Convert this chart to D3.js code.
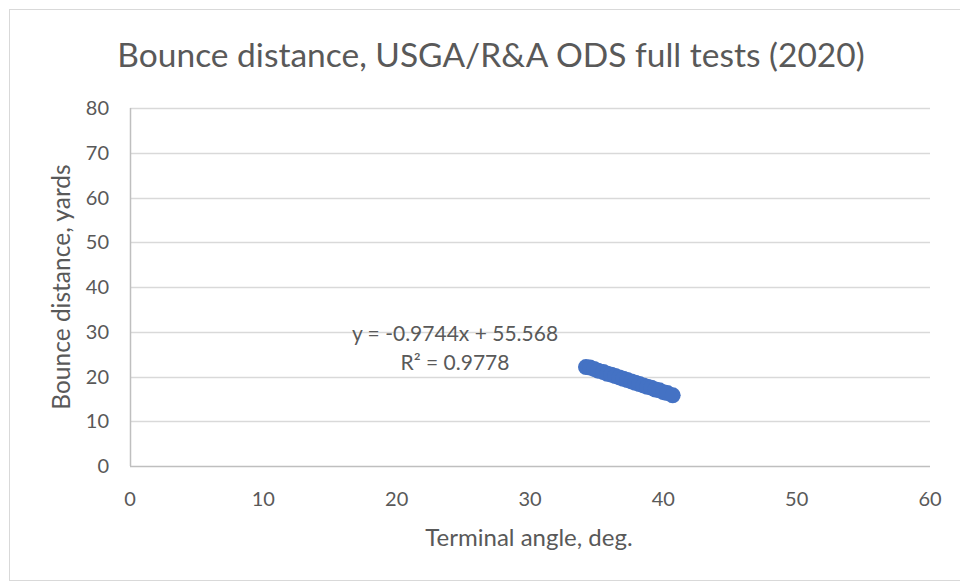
<!DOCTYPE html>
<html>
<head>
<meta charset="utf-8">
<script src="https://cdn.jsdelivr.net/npm/d3@7"></script>
<style>
  body { margin: 0; background: #fff; }
  svg text { font-family: Lato, "Open Sans", sans-serif; fill: #595959; }
</style>
</head>
<body>
<div id="chart"></div>
<script>
// Chart data
const angles  = [34.2, 34.5, 34.8, 35.1, 35.5, 35.8, 36.1, 36.4, 36.7, 37.0, 37.3,
                 37.6, 37.9, 38.2, 38.5, 38.8, 39.1, 39.4, 39.7, 40.0, 40.3, 40.7];
const bounces = [22.1, 22.0, 21.7, 21.3, 21.0, 20.6, 20.4, 20.1, 19.8, 19.5, 19.2,
                 18.9, 18.6, 18.3, 18.0, 17.7, 17.5, 17.1, 16.9, 16.5, 16.3, 15.8];
const xTicks = [0, 10, 20, 30, 40, 50, 60];
const yTicks = [0, 10, 20, 30, 40, 50, 60, 70, 80];
const slope = -0.9744, intercept = 55.568;
const equation = "y = -0.9744x + 55.568";
const rSquared = "R² = 0.9778";

const width = 960, height = 583;
const margin = { left: 130, right: 30, top: 108, bottom: 117 };

const svg = d3.select("#chart").append("svg")
    .attr("width", width)
    .attr("height", height);

// outer chart frame
svg.append("rect")
    .attr("x", 9.5).attr("y", 9.5)
    .attr("width", 970).attr("height", 571)
    .attr("fill", "white")
    .attr("stroke", "#d9d9d9");

const x = d3.scaleLinear().domain([0, 60]).range([margin.left, width - margin.right]);
const y = d3.scaleLinear().domain([0, 80]).range([height - margin.bottom, margin.top]);

// gridlines
svg.append("g").selectAll("line")
    .data(yTicks.filter(d => d > 0))
    .join("line")
    .attr("x1", x(0)).attr("x2", x(60))
    .attr("y1", d => Math.round(y(d)) + 0.5).attr("y2", d => Math.round(y(d)) + 0.5)
    .attr("stroke", "#d9d9d9").attr("stroke-width", 1.3);

// axes lines
svg.append("line")
    .attr("x1", x(0)).attr("x2", x(60))
    .attr("y1", Math.round(y(0)) + 0.5).attr("y2", Math.round(y(0)) + 0.5)
    .attr("stroke", "#bfbfbf").attr("stroke-width", 1.5);
svg.append("line")
    .attr("x1", x(0) + 0.5).attr("x2", x(0) + 0.5)
    .attr("y1", y(0)).attr("y2", y(80))
    .attr("stroke", "#bfbfbf").attr("stroke-width", 1.5);

// tick labels
svg.append("g").selectAll("text")
    .data(yTicks)
    .join("text")
    .attr("x", x(0) - 21)
    .attr("y", d => y(d) + 7)
    .attr("text-anchor", "end")
    .attr("font-size", 20)
    .text(d => d);

svg.append("g").selectAll("text")
    .data(xTicks)
    .join("text")
    .attr("x", d => x(d))
    .attr("y", y(0) + 40)
    .attr("text-anchor", "middle")
    .attr("font-size", 20)
    .text(d => d);

// trendline (under the markers)
const xr = d3.extent(angles);
svg.append("line")
    .attr("x1", x(xr[0])).attr("y1", y(slope * xr[0] + intercept))
    .attr("x2", x(xr[1])).attr("y2", y(slope * xr[1] + intercept))
    .attr("stroke", "#4472c4").attr("stroke-width", 2);

// markers
svg.append("g").selectAll("circle")
    .data(angles.map((a, i) => ({ a, b: bounces[i] })))
    .join("circle")
    .attr("cx", d => x(d.a))
    .attr("cy", d => y(d.b))
    .attr("r", 8)
    .attr("fill", "#4472c4");

// trendline label
svg.append("text")
    .attr("x", 455).attr("y", 341)
    .attr("text-anchor", "middle")
    .attr("font-size", 21)
    .text(equation);
svg.append("text")
    .attr("x", 455).attr("y", 370)
    .attr("text-anchor", "middle")
    .attr("font-size", 21)
    .text(rSquared);

// titles
svg.append("text")
    .attr("x", 491).attr("y", 67)
    .attr("text-anchor", "middle")
    .attr("font-size", 33.5)
    .text("Bounce distance, USGA/R&A ODS full tests (2020)");

svg.append("text")
    .attr("x", x(30) - 1).attr("y", 546)
    .attr("text-anchor", "middle")
    .attr("font-size", 24)
    .text("Terminal angle, deg.");

svg.append("text")
    .attr("transform", `translate(70, ${y(40)}) rotate(-90)`)
    .attr("text-anchor", "middle")
    .attr("font-size", 24.5)
    .text("Bounce distance, yards");
</script>
</body>
</html>
